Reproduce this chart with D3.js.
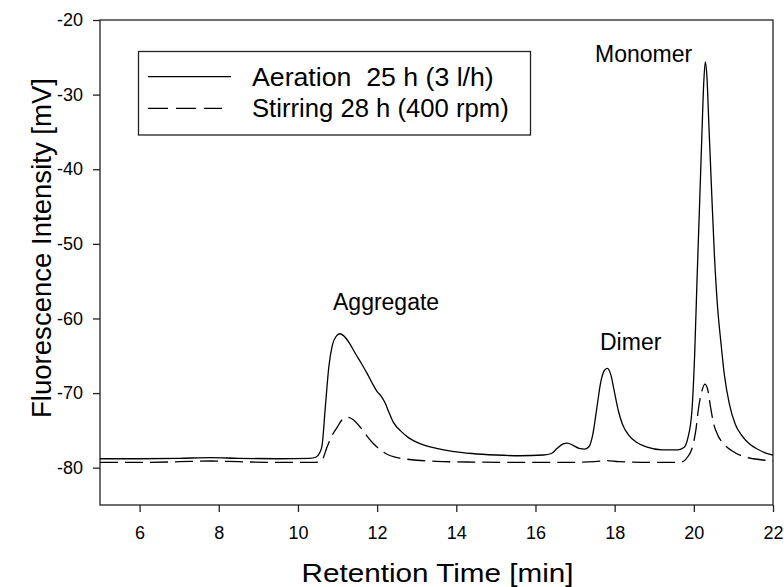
<!DOCTYPE html>
<html>
<head>
<meta charset="utf-8">
<script src="https://cdn.jsdelivr.net/npm/d3@7"></script>
<style>
  body { margin: 0; background: #fff; }
  text { font-family: "Liberation Sans", Arial, sans-serif; fill: #000; }
</style>
</head>
<body>
<div id="plot"></div>
<script>
// Data
const aerationTime = [5.0, 6.0, 7.0, 7.8, 8.5, 9.5, 10.3, 10.45, 10.55, 10.61, 10.69, 10.78, 10.86, 10.98, 11.06,
  11.15, 11.3, 11.45, 11.6, 11.75, 11.9, 12.0, 12.1, 12.2, 12.3, 12.42, 12.6, 12.8, 13.1, 13.5, 13.9, 14.4,
  15.0, 15.6, 16.2, 16.4, 16.55, 16.7, 16.8, 16.95, 17.1, 17.25, 17.35, 17.45, 17.55, 17.65, 17.75, 17.82,
  17.9, 18.0, 18.1, 18.2, 18.35, 18.55, 18.8, 19.2, 19.6, 19.75, 19.85, 19.95, 20.02, 20.08, 20.15, 20.2,
  20.25, 20.29, 20.33, 20.38, 20.45, 20.52, 20.6, 20.68, 20.77, 20.9, 21.05, 21.2, 21.4, 21.6, 21.8, 22.0];
const aerationSignal = [-78.8, -78.8, -78.75, -78.65, -78.75, -78.8, -78.75, -78.6, -78.0, -77.0, -72.0, -66.5, -63.8, -62.3, -62.05,
  -62.3, -63.3, -64.7, -66.0, -67.4, -68.9, -69.8, -70.4, -71.3, -72.6, -74.0, -75.1, -76.0, -76.8, -77.4, -77.8, -78.1,
  -78.3, -78.4, -78.3, -78.1, -77.4, -76.8, -76.7, -77.0, -77.4, -77.5, -77.2, -75.5, -72.0, -68.5, -66.9, -66.7,
  -67.5, -70.0, -72.5, -74.2, -75.6, -76.6, -77.2, -77.6, -77.6, -77.3, -76.0, -72.5, -65.0, -55.0, -44.0, -36.0,
  -28.5, -25.6, -27.5, -34.0, -43.0, -51.5, -58.5, -63.0, -67.5, -71.5, -74.2, -75.6, -76.8, -77.5, -78.0, -78.3];

const stirringTime = [5.0, 6.0, 7.0, 7.8, 8.5, 9.5, 10.4, 10.55, 10.62, 10.73, 10.86, 10.99, 11.11, 11.24, 11.38,
  11.58, 11.75, 11.91, 12.08, 12.25, 12.45, 12.67, 13.0, 13.5, 14.5, 15.5, 16.5, 17.5, 17.8, 18.1, 19.0,
  19.6, 19.75, 19.85, 19.95, 20.05, 20.12, 20.2, 20.28, 20.35, 20.42, 20.5, 20.62, 20.77, 20.95, 21.2, 21.5, 21.8, 22.0];
const stirringSignal = [-79.3, -79.3, -79.2, -79.1, -79.2, -79.3, -79.3, -79.2, -78.9, -77.3, -75.7, -74.6, -73.6, -73.25, -73.5,
  -74.6, -75.8, -76.8, -77.6, -78.2, -78.6, -78.8, -79.0, -79.15, -79.25, -79.3, -79.3, -79.2, -79.05, -79.2, -79.3,
  -79.3, -79.1, -78.5, -77.5, -75.0, -72.0, -69.8, -68.8, -69.5, -71.8, -74.1, -75.8, -76.9, -77.7, -78.4, -78.8, -79.0, -79.1];

const seriesNames = ["Aeration  25 h (3 l/h)", "Stirring 28 h (400 rpm)"];
const xTicks = [6, 8, 10, 12, 14, 16, 18, 20, 22];
const yTicks = [-20, -30, -40, -50, -60, -70, -80];
const peakLabels = ["Aggregate", "Dimer", "Monomer"];
const peakTimes = [11.1, 17.8, 20.29];

const margin = { top: 20, right: 11, bottom: 82, left: 100 },
      width = 784 - margin.left - margin.right,
      height = 587 - margin.top - margin.bottom;

const root = d3.select("#plot")
  .append("svg")
    .attr("width", width + margin.left + margin.right)
    .attr("height", height + margin.top + margin.bottom);
const svg = root.append("g")
    .attr("transform", `translate(${margin.left},${margin.top})`);

// scales
const x = d3.scaleLinear().domain([5, 22]).range([0, width]);
const y = d3.scaleLinear().domain([-85, -20]).range([height, 0]);

// frame
svg.append("rect")
  .attr("width", width).attr("height", height)
  .attr("fill", "none").attr("stroke", "#222").attr("stroke-width", 1.3);

// X axis
const xAxis = svg.append("g")
  .attr("transform", `translate(0,${height})`)
  .call(d3.axisBottom(x).tickValues(xTicks).tickSize(7).tickPadding(14).tickFormat(d3.format("d")));
xAxis.select(".domain").remove();
xAxis.selectAll("line").attr("stroke", "#222").attr("stroke-width", 1.3);
xAxis.selectAll("text").attr("font-size", 18).attr("font-family", null);

// Y axis
const yAxis = svg.append("g")
  .call(d3.axisLeft(y).tickValues(yTicks).tickSize(7).tickPadding(10).tickFormat(d => String(d)));
yAxis.select(".domain").remove();
yAxis.selectAll("line").attr("stroke", "#222").attr("stroke-width", 1.3);
yAxis.selectAll("text").attr("font-size", 18).attr("font-family", null);

// axis titles
root.append("text")
  .attr("x", 437.5).attr("y", 582)
  .attr("text-anchor", "middle").attr("font-size", 26)
  .attr("textLength", 272).attr("lengthAdjust", "spacingAndGlyphs")
  .text("Retention Time [min]");
root.append("text")
  .attr("transform", "translate(51,248) rotate(-90)")
  .attr("text-anchor", "middle").attr("font-size", 27)
  .attr("textLength", 340).attr("lengthAdjust", "spacingAndGlyphs")
  .text("Fluorescence Intensity [mV]");

// curves
const line = d3.line()
  .x(d => x(d[0]))
  .y(d => y(d[1]))
  .curve(d3.curveMonotoneX);

svg.append("path")
  .datum(d3.zip(aerationTime, aerationSignal))
  .attr("d", line)
  .attr("fill", "none").attr("stroke", "#000").attr("stroke-width", 1.3);

svg.append("path")
  .datum(d3.zip(stirringTime, stirringSignal))
  .attr("d", line)
  .attr("fill", "none").attr("stroke", "#000").attr("stroke-width", 1.3)
  .attr("stroke-dasharray", "18,7");

// peak labels
const labelPos = [[333, 310], [600, 350], [595, 62]];
svg.selectAll(".peak")
  .data(peakLabels)
  .join("text")
    .attr("class", "peak")
    .attr("x", (d, i) => labelPos[i][0] - margin.left)
    .attr("y", (d, i) => labelPos[i][1] - margin.top)
    .attr("font-size", 23)
    .text(d => d);

// legend
const legend = root.append("g");
legend.append("rect")
  .attr("x", 138.5).attr("y", 51.5).attr("width", 392).attr("height", 83.5)
  .attr("fill", "#fff").attr("stroke", "#222").attr("stroke-width", 1.3);
const legendRows = [
  { name: seriesNames[0], ly: 76.7, ty: 85.5, x2: 231, dash: null, len: 241.7 },
  { name: seriesNames[1], ly: 108.3, ty: 117, x2: 222, dash: "20,8", len: 256.7 }
];
legendRows.forEach(r => {
  legend.append("line")
    .attr("x1", 148).attr("x2", r.x2).attr("y1", r.ly).attr("y2", r.ly)
    .attr("stroke", "#000").attr("stroke-width", 1.3)
    .attr("stroke-dasharray", r.dash);
  legend.append("text")
    .attr("x", 252).attr("y", r.ty)
    .attr("font-size", 25)
    .style("white-space", "pre")
    .attr("textLength", r.len).attr("lengthAdjust", "spacingAndGlyphs")
    .text(r.name);
});
</script>
</body>
</html>
